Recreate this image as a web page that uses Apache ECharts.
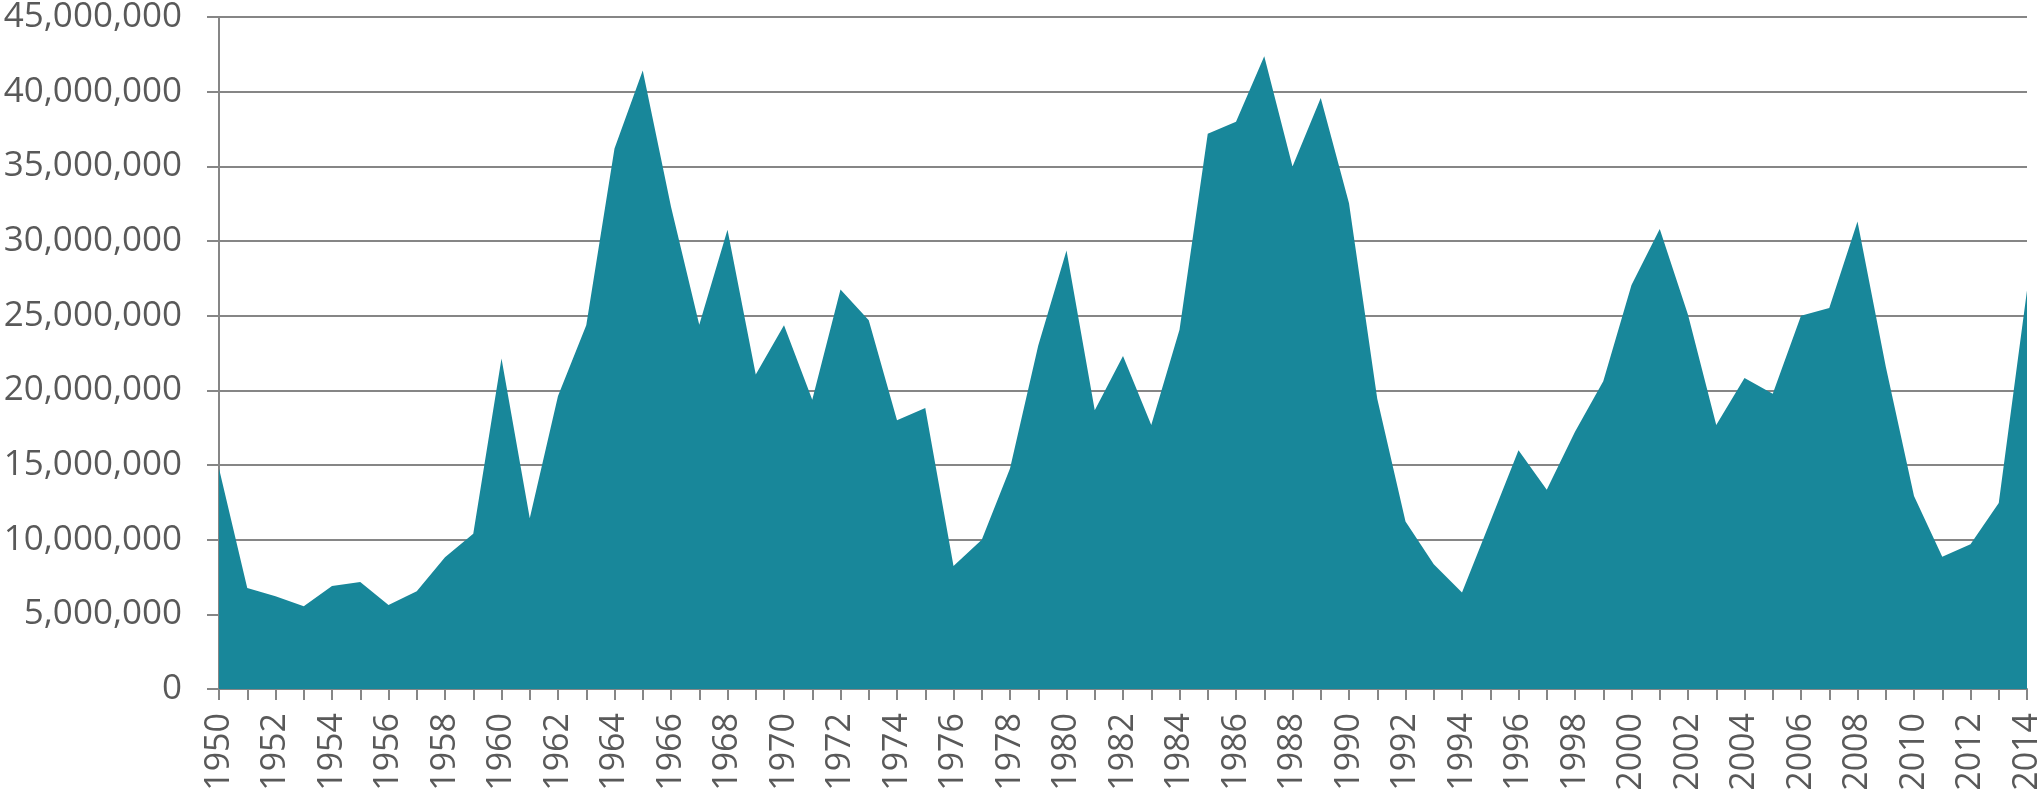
<!DOCTYPE html>
<html>
<head>
<meta charset="utf-8">
<script src="https://cdn.jsdelivr.net/npm/echarts@6/dist/echarts.min.js"></script>
<style>
html,body{margin:0;padding:0;background:#fff;overflow:hidden;}
#chart{width:2038px;height:801px;}
</style>
</head>
<body>
<div id="chart"></div>
<script>
const years = [];
for (let y = 1950; y <= 2014; y++) years.push(String(y));

const values = [
  14760000, 6770000, 6210000, 5540000, 6890000, 7170000, 5630000, 6550000, 8830000, 10390000,
  22140000, 11440000, 19620000, 24350000, 36190000, 41420000, 32300000, 24390000, 30750000, 21060000,
  24350000, 19370000, 26750000, 24690000, 17990000, 18820000, 8240000, 9990000, 14760000, 23000000,
  29370000, 18670000, 22300000, 17680000, 24050000, 37180000, 37980000, 42370000, 34990000, 39580000,
  32530000, 19430000, 11220000, 8360000, 6460000, 11220000, 15990000, 13350000, 17220000, 20600000,
  27060000, 30810000, 25060000, 17680000, 20820000, 19770000, 25000000, 25520000, 31300000, 21600000,
  12920000, 8860000, 9690000, 12450000, 26690000
];

const yMin = 0, yMax = 45000000, yStep = 5000000;

const chart = echarts.init(document.getElementById('chart'));
chart.setOption({
  animation: false,
  backgroundColor: '#ffffff',
  grid: { left: 219, right: 11, top: 17, bottom: 112, containLabel: false, outerBoundsMode: 'none' },
  xAxis: {
    type: 'category',
    data: years,
    boundaryGap: false,
    axisLine: { show: true, lineStyle: { color: '#868686', width: 2 } },
    axisTick: { show: true, interval: 0, length: 11, lineStyle: { color: '#868686', width: 2 } },
    axisLabel: {
      interval: 1,
      rotate: 90,
      margin: 24,
      color: '#595959',
      fontFamily: 'Open Sans',
      fontSize: 34,
      hideOverlap: false
    },
    splitLine: { show: false }
  },
  yAxis: {
    type: 'value',
    min: yMin, max: yMax, interval: yStep,
    axisLine: { show: true, lineStyle: { color: '#868686', width: 2 } },
    axisTick: { show: true, length: 12, lineStyle: { color: '#868686', width: 2 } },
    axisLabel: {
      margin: 37,
      color: '#595959',
      fontFamily: 'Open Sans',
      fontSize: 35,
      formatter: v => v.toLocaleString('en-US')
    },
    splitLine: { show: true, lineStyle: { color: '#868686', width: 2 } }
  },
  series: [{
    type: 'line',
    data: values,
    symbol: 'none',
    lineStyle: { width: 0 },
    areaStyle: { color: '#18879A', opacity: 1 },
    z: 1
  }]
});
</script>
</body>
</html>
